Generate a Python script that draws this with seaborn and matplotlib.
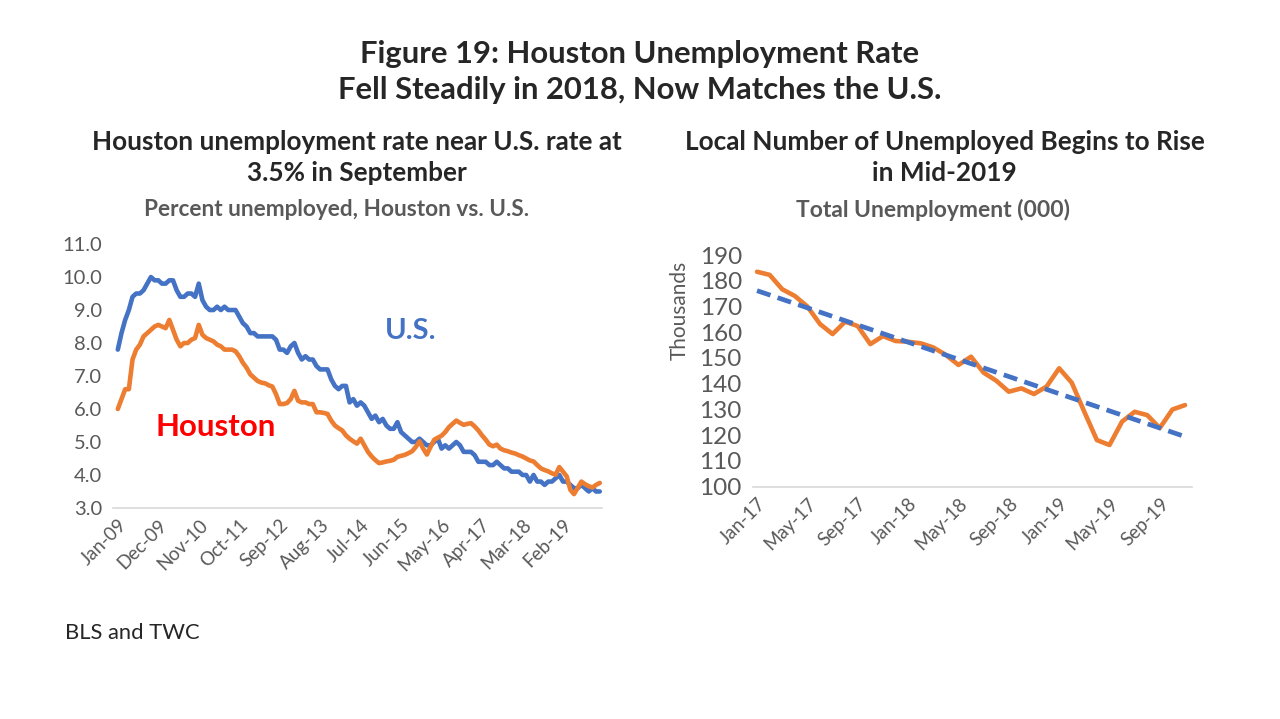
import numpy as np
import pandas as pd
import matplotlib
matplotlib.use("Agg")
import matplotlib.pyplot as plt
import seaborn as sns

# left panel: monthly unemployment rate, Jan-09 .. Dec-19
months_left = pd.date_range("2009-01-01", periods=132, freq="MS").strftime("%b-%y").tolist()

us_rate = [
    7.8, 8.3, 8.7, 9.0, 9.4, 9.5, 9.5, 9.6, 9.8, 10.0, 9.9, 9.9,
    9.8, 9.8, 9.9, 9.9, 9.6, 9.4, 9.4, 9.5, 9.5, 9.4, 9.8, 9.3,
    9.1, 9.0, 9.0, 9.1, 9.0, 9.1, 9.0, 9.0, 9.0, 8.8, 8.6, 8.5,
    8.3, 8.3, 8.2, 8.2, 8.2, 8.2, 8.2, 8.1, 7.8, 7.8, 7.7, 7.9,
    8.0, 7.7, 7.5, 7.6, 7.5, 7.5, 7.3, 7.2, 7.2, 7.2, 6.9, 6.7,
    6.6, 6.7, 6.7, 6.2, 6.3, 6.1, 6.2, 6.1, 5.9, 5.7, 5.8, 5.6,
    5.7, 5.5, 5.4, 5.4, 5.6, 5.3, 5.2, 5.1, 5.0, 5.0, 5.1, 5.0,
    4.9, 4.9, 5.0, 5.1, 4.8, 4.9, 4.8, 4.9, 5.0, 4.9, 4.7, 4.7,
    4.7, 4.6, 4.4, 4.4, 4.4, 4.3, 4.3, 4.4, 4.3, 4.2, 4.2, 4.1,
    4.1, 4.1, 4.0, 4.0, 3.8, 4.0, 3.8, 3.8, 3.7, 3.8, 3.8, 3.9,
    4.0, 3.8, 3.8, 3.7, 3.6, 3.6, 3.7, 3.6, 3.5, 3.6, 3.5, 3.5,
]

houston_rate = [
    6.0, 6.3, 6.6, 6.6, 7.5, 7.8, 7.95, 8.2, 8.3, 8.4, 8.5, 8.55,
    8.5, 8.45, 8.7, 8.4, 8.1, 7.9, 8.0, 8.0, 8.1, 8.15, 8.55, 8.25,
    8.15, 8.1, 8.05, 7.95, 7.9, 7.8, 7.8, 7.8, 7.75, 7.6, 7.4, 7.25,
    7.05, 6.95, 6.85, 6.8, 6.78, 6.72, 6.68, 6.45, 6.15, 6.15, 6.18, 6.3,
    6.55, 6.25, 6.2, 6.2, 6.15, 6.15, 5.9, 5.9, 5.88, 5.85, 5.65, 5.5,
    5.42, 5.35, 5.2, 5.1, 5.02, 4.95, 5.1, 4.9, 4.7, 4.56, 4.45, 4.36,
    4.38, 4.41, 4.43, 4.46, 4.55, 4.58, 4.61, 4.66, 4.72, 4.85, 5.02, 4.8,
    4.62, 4.85, 5.07, 5.13, 5.19, 5.3, 5.45, 5.55, 5.65, 5.58, 5.52, 5.55,
    5.57, 5.47, 5.35, 5.2, 5.07, 4.92, 4.87, 4.92, 4.8, 4.75, 4.72, 4.68,
    4.65, 4.6, 4.56, 4.5, 4.44, 4.41, 4.3, 4.2, 4.15, 4.11, 4.05, 4.01,
    4.24, 4.1, 3.96, 3.55, 3.42, 3.61, 3.8, 3.72, 3.66, 3.62, 3.7, 3.76,
]

# right panel: Houston total unemployment (thousands), Jan-17 .. Nov-19
months_right = pd.date_range("2017-01-01", periods=35, freq="MS").strftime("%b-%y").tolist()
unemployed = [
    183.5, 182.3, 176.7, 174.1, 170.0, 163.2, 159.3, 164.1, 162.4, 155.4, 158.5, 156.6,
    156.3, 155.7, 154.1, 151.2, 147.3, 150.5, 144.3, 141.2, 136.9, 138.2, 136.0, 138.9,
    146.0, 140.4, 129.1, 118.1, 116.2, 125.3, 129.1, 127.8, 122.8, 130.0, 131.7,
]

left_df = pd.DataFrame({"idx": np.arange(len(months_left)), "us": us_rate, "houston": houston_rate})
right_df = pd.DataFrame({"idx": np.arange(len(months_right)), "unemp": unemployed})
coef = np.polyfit(right_df["idx"], right_df["unemp"], 1)
right_df["trend"] = np.polyval(coef, right_df["idx"])

BLUE = "#4472C4"
ORANGE = "#ED7D31"
GRAY = "#595959"

sns.set_theme(style="white")
plt.rcParams["font.family"] = ["Lato", "DejaVu Sans"]

fig = plt.figure(figsize=(12.8, 7.19), dpi=100)

fig.text(0.5, 0.925, "Figure 19: Houston Unemployment Rate", ha="center", va="center",
         fontsize=22.3, fontweight="bold")
fig.text(0.5, 0.875, "Fell Steadily in 2018, Now Matches the U.S.", ha="center", va="center",
         fontsize=22.3, fontweight="bold")

# ---- left chart
ax1 = fig.add_axes([0.0883, 0.2935, 0.382, 0.3671])
sns.lineplot(data=left_df, x="idx", y="us", ax=ax1, color=BLUE, lw=3.3)
sns.lineplot(data=left_df, x="idx", y="houston", ax=ax1, color=ORANGE, lw=3.3)
ax1.set_ylim(3, 11)
ax1.set_xlim(-1.3, 131.6)
ax1.set_yticks(np.arange(3, 11.5, 1))
ax1.set_yticklabels([f"{v:.1f}" for v in np.arange(3, 11.5, 1)])
ticks = list(range(0, len(months_left), 11))
ax1.set_xticks(ticks)
ax1.set_xticklabels([months_left[i] for i in ticks], rotation=45, ha="right", rotation_mode="anchor")
ax1.text(26.5, 5.45, "Houston", color="red", fontsize=22.5, fontweight="bold", ha="center", va="center")
ax1.text(79.5, 8.35, "U.S.", color=BLUE, fontsize=21, fontweight="bold", ha="center", va="center")
ax1.set_xlabel("")
ax1.set_ylabel("")

fig.text(0.279, 0.802, "Houston unemployment rate near U.S. rate at", ha="center", va="center",
         fontsize=18.8, fontweight="bold")
fig.text(0.279, 0.760, "3.5% in September", ha="center", va="center", fontsize=18.8, fontweight="bold")
fig.text(0.263, 0.708, "Percent unemployed, Houston vs. U.S.", ha="center", va="center",
         fontsize=16.3, fontweight="bold", color=GRAY)

# ---- right chart
ax2 = fig.add_axes([0.5883, 0.3231, 0.343, 0.3222])
sns.lineplot(data=right_df, x="idx", y="unemp", ax=ax2, color=ORANGE, lw=3.3)
sns.lineplot(data=right_df, x="idx", y="trend", ax=ax2, color=BLUE, lw=3.4,
             linestyle=(0, (3.0, 1.6)))
ax2.set_ylim(100, 190)
ax2.set_xlim(-0.32, 34.56)
ax2.set_yticks(np.arange(100, 191, 10))
rticks = list(range(0, len(months_right), 4))
ax2.set_xticks(rticks)
ax2.set_xticklabels([months_right[i] for i in rticks], rotation=45, ha="right", rotation_mode="anchor")
ax2.set_xlabel("")
ax2.set_ylabel("")
fig.text(0.531, 0.569, "Thousands", rotation=90, ha="center", va="center", fontsize=15, color=GRAY)

fig.text(0.738, 0.802, "Local Number of Unemployed Begins to Rise", ha="center", va="center",
         fontsize=18.8, fontweight="bold")
fig.text(0.738, 0.760, "in Mid-2019", ha="center", va="center", fontsize=18.8, fontweight="bold")
fig.text(0.729, 0.708, "Total Unemployment (000)", ha="center", va="center",
         fontsize=16.5, fontweight="bold", color=GRAY)

for ax, ysize in ((ax1, 14.5), (ax2, 17.5)):
    for side in ("top", "right", "left"):
        ax.spines[side].set_visible(False)
    ax.spines["bottom"].set_color("#D9D9D9")
    ax.spines["bottom"].set_linewidth(1.2)
    ax.tick_params(axis="both", length=0, colors=GRAY)
    ax.tick_params(axis="y", labelsize=ysize, pad=8)
    ax.tick_params(axis="x", labelsize=13.5, pad=6)
    ax.grid(False)

fig.text(0.051, 0.12, "BLS and TWC", ha="left", va="center", fontsize=15.8)

fig.savefig("out.png", dpi=100)
